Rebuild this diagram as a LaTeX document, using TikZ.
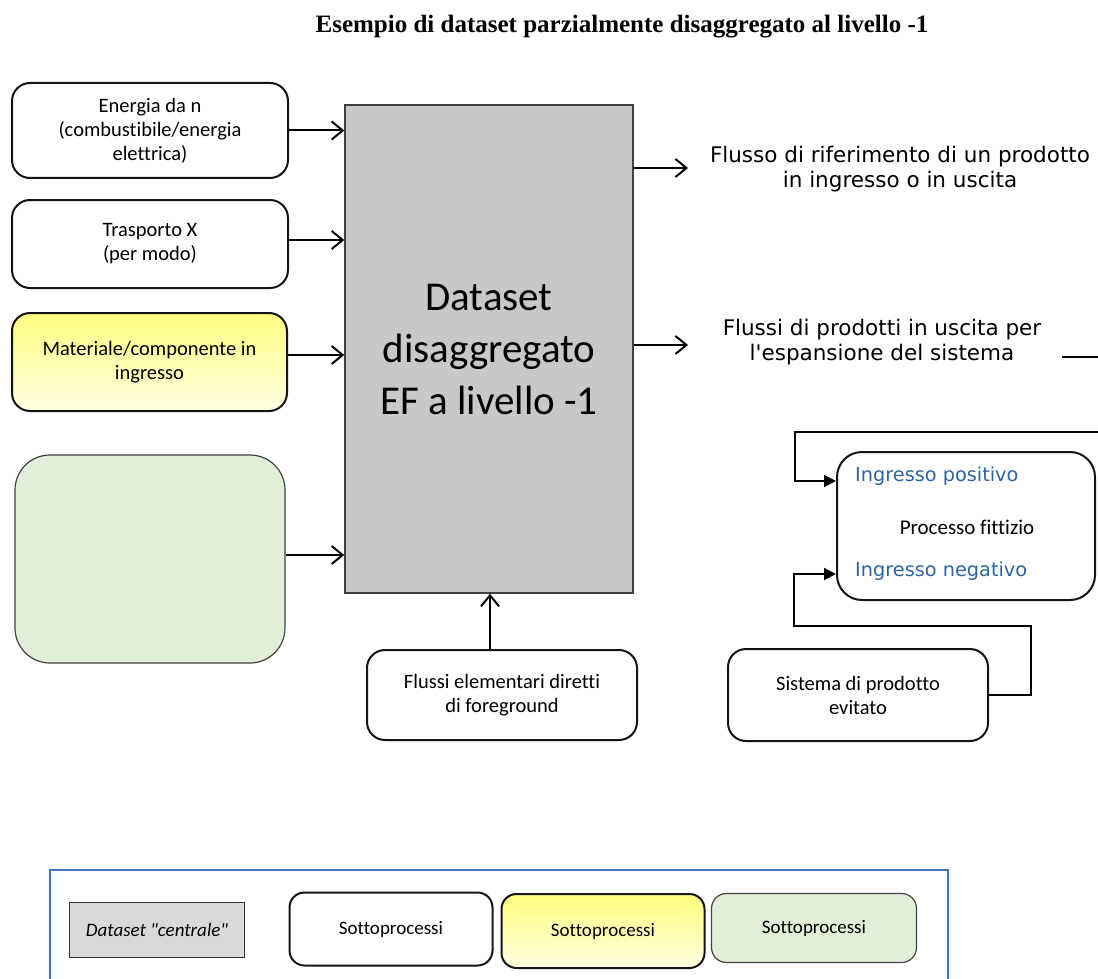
\documentclass[tikz,border=0pt]{standalone}
\usepackage{fontspec}
\setmainfont[Ligatures={NoCommon}]{Carlito}
\newfontfamily\calib[Ligatures={NoCommon}]{Carlito}
\newfontfamily\verdanalike{DejaVu Sans}
\newfontfamily\titlefont{Liberation Serif}
\usetikzlibrary{arrows.meta}
\definecolor{boxline}{RGB}{20,20,20}
\definecolor{centralgray}{RGB}{200,200,200}
\definecolor{legendgray}{RGB}{217,217,217}
\definecolor{paleyellow}{RGB}{255,255,128}
\definecolor{lightyellow}{RGB}{255,255,225}
\definecolor{palegreen}{RGB}{225,238,216}
\definecolor{linkblue}{RGB}{46,100,160}
\definecolor{frameblue}{RGB}{68,114,196}
\tikzset{
  x=1pt, y=-1pt,
  subbox/.style={draw=boxline, line width=2pt, rounded corners=18pt, fill=white,
    align=center, font=\calib\fontsize{20.5}{24}\selectfont, inner sep=0pt},
  yellowbox/.style={subbox, top color=paleyellow, bottom color=lightyellow},
  greenbox/.style={draw=boxline!80, line width=1.2pt, rounded corners=35pt, fill=palegreen, inner sep=0pt},
  centralbox/.style={draw=black!75, line width=1.5pt, fill=centralgray, align=center,
    font=\calib\fontsize{41}{52}\selectfont, inner sep=0pt},
  flowtext/.style={align=center, font=\verdanalike\fontsize{21.5}{25}\selectfont, inner sep=0pt},
  bluetext/.style={font=\verdanalike\fontsize{19.3}{22}\selectfont, text=linkblue, anchor=west, inner sep=0pt},
  barb/.style={line width=2pt, -{Straight Barb[length=11pt,width=18pt,line width=2pt]}},
  tri/.style={line width=2pt, -{Triangle[length=12pt,width=12pt]}},
  plainlink/.style={line width=2pt},
  legendbox/.style={align=center, font=\calib\fontsize{19}{22}\selectfont, inner sep=0pt},
}
\begin{document}
\begin{tikzpicture}
\useasboundingbox (0,0) rectangle (1098,979);
\fill[white] (0,0) rectangle (1098,979);

% title
\node[font=\titlefont\bfseries\fontsize{25}{28}\selectfont] (title) at (622,27)
  {Esempio di dataset parzialmente disaggregato al livello -1};

% central dataset
\node[centralbox, minimum width=288pt, minimum height=488pt] (central) at (489,349)
  {Dataset\\disaggregato\\EF a livello -1};

% input sub-processes
\node[subbox, minimum width=276pt, minimum height=95pt] (energy) at (150,130.5)
  {Energia da n\\(combustibile/energia\\elettrica)};
\node[subbox, minimum width=276pt, minimum height=88pt] (transport) at (150,244)
  {Trasporto X\\(per modo)};
\node[yellowbox, minimum width=275pt, minimum height=98pt] (material) at (149.5,362)
  {Materiale/componente in\\ingresso};
\node[greenbox, minimum width=270pt, minimum height=208pt] (greenproc) at (150,559) {};

\draw[barb] (energy.east) -- (energy.east -| central.west);
\draw[barb] (transport.east |- 0,240) -- (central.west |- 0,240);
\draw[barb] (material.east |- 0,355) -- (central.west |- 0,355);
\draw[barb] (greenproc.east |- 0,555) -- (central.west |- 0,555);

% output flows
\node[flowtext] (refflow) at (900,169)
  {Flusso di riferimento di un prodotto\\in ingresso o in uscita};
\node[flowtext] (expflow) at (882,342)
  {Flussi di prodotti in uscita per\\l'espansione del sistema};
\coordinate (refend) at (688,168);
\coordinate (expend) at (688,345);
\draw[barb] (central.east |- refend) -- (refend);
\draw[barb] (central.east |- expend) -- (expend);
\coordinate (expout) at (1098,357);
\draw[plainlink] (1062,357) -- (expout);

% elementary flows
\node[subbox, minimum width=270pt, minimum height=90pt] (elem) at (502,695)
  {Flussi elementari diretti\\di foreground};
\draw[barb] ([xshift=-12pt]elem.north) -- ([xshift=-12pt]elem.north |- central.south);

% fictitious process
\node[subbox, rounded corners=25pt, minimum width=258pt, minimum height=148pt] (fict) at (966,526) {};
\node[bluetext] (pos) at (855,476) {Ingresso positivo};
\node[font=\calib\fontsize{21}{24}\selectfont, inner sep=0pt] (fictlabel) at (967,527) {Processo fittizio};
\node[bluetext] (neg) at (855,571) {Ingresso negativo};

\node[subbox, minimum width=260pt, minimum height=92pt] (avoided) at (858,695)
  {Sistema di prodotto\\evitato};

\coordinate (loopin) at (1098,432);
\draw[tri] (loopin) -- (795,432) -- (795,481) -- (fict.west |- 0,481);
\draw[tri] (avoided.east) -- (1031,695) -- (1031,626) -- (794,626) -- (794,574) -- (fict.west |- 0,574);

% legend
\draw[frameblue, line width=1.2pt] (50,979) -- (50,870) -- (948,870) -- (948,979);
\node[legendbox, draw=black!80, line width=1.5pt, fill=legendgray, minimum width=175pt, minimum height=55pt,
  font=\calib\itshape\fontsize{19}{22}\selectfont] (legcentral) at (157,930) {Dataset "centrale"};
\node[legendbox, draw=boxline, line width=2pt, fill=white, rounded corners=15pt,
  minimum width=203pt, minimum height=73pt] (legwhite) at (391,929) {Sottoprocessi};
\node[legendbox, draw=boxline, line width=2pt, top color=paleyellow, bottom color=lightyellow, rounded corners=15pt,
  minimum width=203pt, minimum height=74pt] (legyellow) at (603,931) {Sottoprocessi};
\node[legendbox, draw=boxline!80, line width=1.2pt, fill=palegreen, rounded corners=15pt,
  minimum width=205pt, minimum height=69pt] (leggreen) at (814,928) {Sottoprocessi};
\end{tikzpicture}
\end{document}
